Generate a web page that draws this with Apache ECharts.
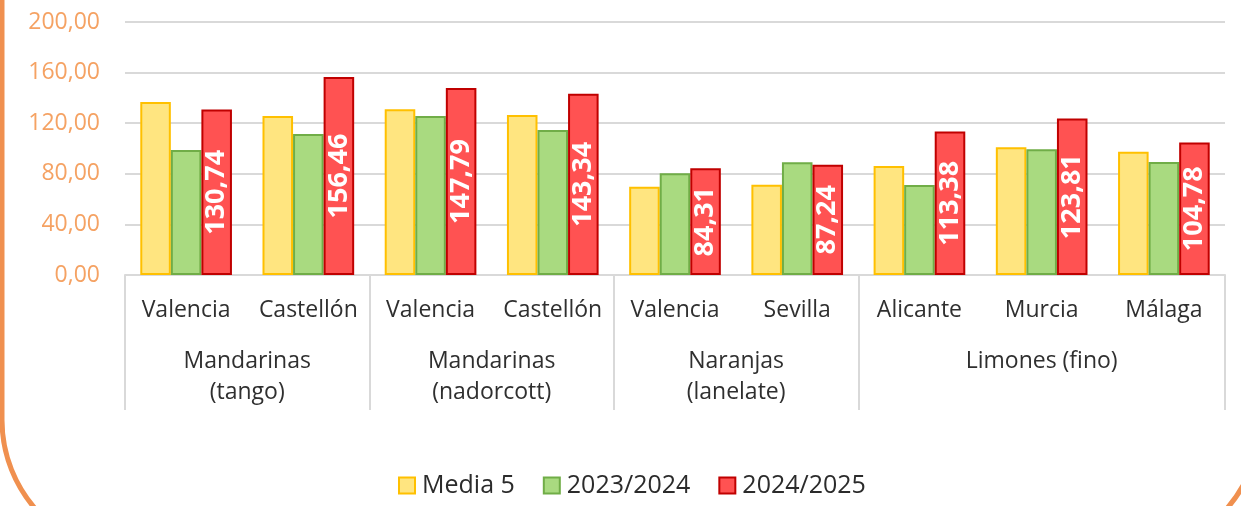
<!DOCTYPE html>
<html>
<head>
<meta charset="utf-8">
<script src="https://cdn.jsdelivr.net/npm/echarts@6/dist/echarts.min.js"></script>
<style>
html,body{margin:0;padding:0;background:#fff;}
#chart{width:1241px;height:506px;}
</style>
</head>
<body>
<div id="chart"></div>
<script>
const subCategories = ['Valencia','Castellón','Valencia','Castellón','Valencia','Sevilla','Alicante','Murcia','Málaga'];
const groupNames = ['Mandarinas\n(tango)','Mandarinas\n(nadorcott)','Naranjas\n(lanelate)','Limones (fino)'];
const groupSpans = [2,2,2,3];
const seriesNames = ['Media 5','2023/2024','2024/2025'];
const media5 = [136.8, 125.7, 131.0, 126.5, 69.8, 71.4, 86.2, 101.0, 97.5];
const season2324 = [98.8, 111.5, 125.7, 114.6, 80.4, 89.1, 71.1, 99.4, 89.3];
const season2425 = [130.74, 156.46, 147.79, 143.34, 84.31, 87.24, 113.38, 123.81, 104.78];
const yTicks = {min:0, max:200, interval:40};

// Build half-slot axis for group labels and separators
const nHalf = subCategories.length * 2 + 1;
const halfData = new Array(nHalf).fill('');
const sepIdx = new Set([0]);
let cum = 0;
groupSpans.forEach((s, i) => {
  halfData[cum * 2 + s] = groupNames[i];
  cum += s;
  sepIdx.add(cum * 2);
});

const font = 'Open Sans';
const fmt = v => v.toFixed(2).replace('.', ',');

const chart = echarts.init(document.getElementById('chart'), null, {renderer:'canvas'});
chart.setOption({
  animation:false,
  textStyle:{fontFamily:font},
  graphic:[{
    type:'rect', silent:true, z:-10,
    shape:{x:2, y:-300, width:1258, height:855, r:135},
    style:{fill:'none', stroke:'#F0904F', lineWidth:5}
  }],
  legend:{
    bottom:3, left:393,
    icon:'rect',
    itemWidth:16, itemHeight:16, itemGap:28,
    textStyle:{fontSize:25, color:'#2b2b2b', fontFamily:font, padding:[0,0,0,2]},
    data:seriesNames
  },
  grid:{left:125, right:16, top:22, bottom:231},
  xAxis:[{
    type:'category', data:subCategories,
    axisLine:{lineStyle:{color:'#d9d9d9', width:2}},
    axisTick:{show:false},
    axisLabel:{fontSize:23, color:'#2f2f2f', margin:20, lineHeight:30, interval:0}
  },{
    type:'category', data:halfData, boundaryGap:false, position:'bottom',
    axisLine:{show:false},
    axisTick:{show:true, length:135, interval:(i) => sepIdx.has(i), lineStyle:{color:'#d9d9d9', width:2}},
    axisLabel:{fontSize:23, color:'#2f2f2f', margin:71, lineHeight:31, interval:0, align:'center'}
  }],
  yAxis:{
    type:'value', min:yTicks.min, max:yTicks.max, interval:yTicks.interval,
    axisLine:{show:false}, axisTick:{show:false},
    splitLine:{lineStyle:{color:'#d9d9d9', width:2}},
    axisLabel:{fontSize:23, color:'#F5A263', margin:25, formatter:v => fmt(v)}
  },
  series:[{
    name:seriesNames[0], type:'bar', data:media5, barGap:'0%', barCategoryGap:'25%',
    itemStyle:{color:'#FFE580', borderColor:'#FFC000', borderWidth:2}
  },{
    name:seriesNames[1], type:'bar', data:season2324,
    itemStyle:{color:'#A9DA80', borderColor:'#70AD47', borderWidth:2}
  },{
    name:seriesNames[2], type:'bar', data:season2425,
    itemStyle:{color:'#FF5252', borderColor:'#C00000', borderWidth:2},
    label:{show:true, position:'inside', rotate:90, color:'#fff', fontWeight:'bold', fontSize:27,
      fontFamily:font, formatter:p => fmt(p.value)}
  }]
});
</script>
</body>
</html>
